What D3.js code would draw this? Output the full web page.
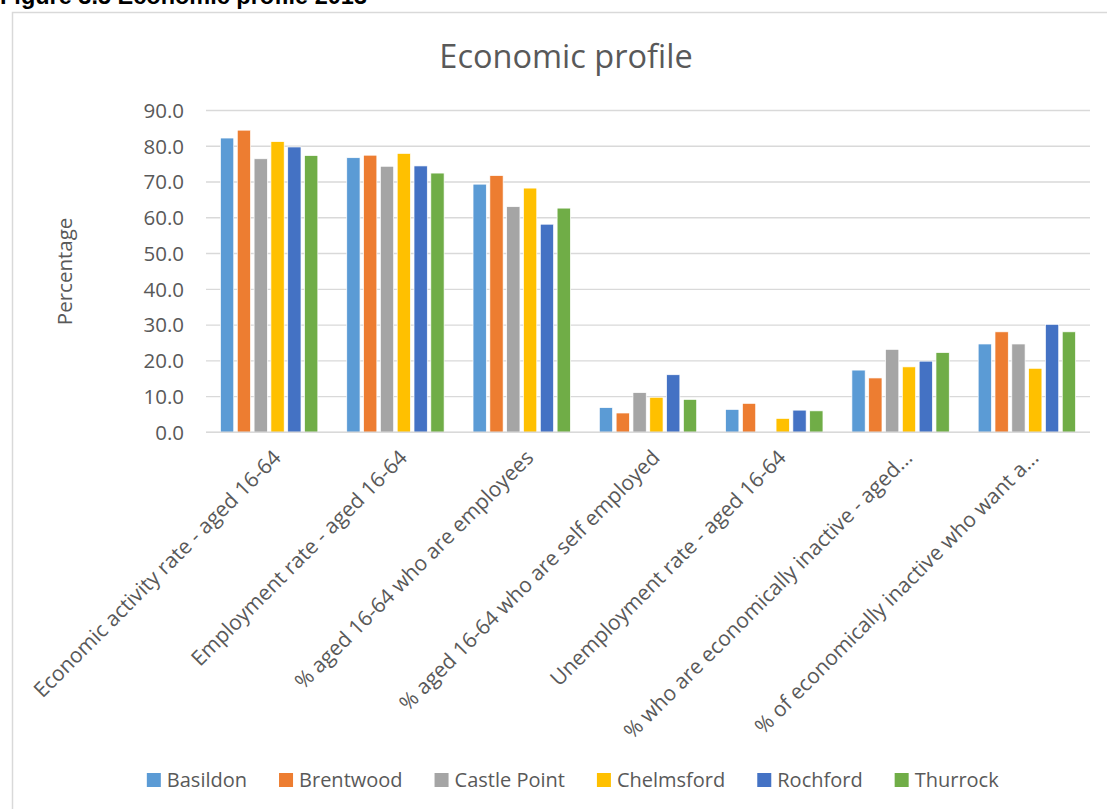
<!DOCTYPE html>
<html>
<head>
<meta charset="utf-8">
<script src="https://cdn.jsdelivr.net/npm/d3@7"></script>
<style>
  body { margin: 0; background: #fff; }
  svg { display: block; font-family: "Open Sans", sans-serif; }
</style>
</head>
<body>
<div id="chart"></div>
<script>
var categories = [
  "Economic activity rate - aged 16-64",
  "Employment rate - aged 16-64",
  "% aged 16-64 who are employees",
  "% aged 16-64 who are self employed",
  "Unemployment rate - aged 16-64",
  "% who are economically inactive - aged...",
  "% of economically inactive who want a..."
];
var seriesNames = ["Basildon", "Brentwood", "Castle Point", "Chelmsford", "Rochford", "Thurrock"];
var colors = ["#5B9BD5", "#ED7D31", "#A5A5A5", "#FFC000", "#4472C4", "#70AD47"];

var basildon    = [82.3, 76.8, 69.4, 6.9, 6.4, 17.4, 24.7];
var brentwood   = [84.5, 77.5, 71.8, 5.4, 8.1, 15.2, 28.1];
var castlePoint = [76.5, 74.4, 63.1, 11.1, null, 23.2, 24.7];
var chelmsford  = [81.3, 78.0, 68.3, 9.8, 3.9, 18.3, 17.9];
var rochford    = [79.8, 74.5, 58.2, 16.1, 6.2, 19.9, 30.2];
var thurrock    = [77.4, 72.5, 62.7, 9.2, 6.0, 22.3, 28.1];
var seriesValues = [basildon, brentwood, castlePoint, chelmsford, rochford, thurrock];

var yTicks = [0, 10, 20, 30, 40, 50, 60, 70, 80, 90];

var width = 1107, height = 809;
var plotLeft = 206, plotRight = 1090, plotTop = 110.5, plotBottom = 432.3;
var textColor = "#595959";

var svg = d3.select("#chart").append("svg")
  .attr("width", width)
  .attr("height", height);

// caption above the frame, cut off by the top edge
svg.append("text")
  .attr("x", 0)
  .attr("y", 4)
  .style("font-family", "'Liberation Sans', sans-serif")
  .style("font-weight", "bold")
  .style("font-size", "23.5px")
  .attr("fill", "#000")
  .text("Figure 3.5 Economic profile 2013");

// chart frame
svg.append("rect")
  .attr("x", 12.5).attr("y", 12.5)
  .attr("width", 1115).attr("height", 820)
  .attr("fill", "#fff")
  .attr("stroke", "#d9d9d9")
  .attr("stroke-width", 1.5);

var x0 = d3.scaleBand().domain(d3.range(categories.length)).range([plotLeft, plotRight]);
var x1 = d3.scaleBand().domain(d3.range(seriesNames.length))
  .range([0, x0.bandwidth()]).paddingInner(0.21).paddingOuter(0.86);
var y = d3.scaleLinear().domain([0, 90]).range([plotBottom, plotTop]);

// gridlines
svg.append("g").selectAll("line").data(yTicks).enter().append("line")
  .attr("x1", plotLeft).attr("x2", plotRight)
  .attr("y1", function(d){ return y(d); })
  .attr("y2", function(d){ return y(d); })
  .attr("stroke", "#d9d9d9")
  .attr("stroke-width", 1.3);

// y tick labels
svg.append("g").selectAll("text").data(yTicks).enter().append("text")
  .attr("x", 184)
  .attr("y", function(d){ return y(d); })
  .attr("dy", "0.36em")
  .attr("text-anchor", "end")
  .attr("fill", textColor)
  .style("font-size", "20.5px")
  .text(function(d){ return d3.format(".1f")(d); });

// bars
var groups = svg.append("g").selectAll("g").data(seriesValues).enter().append("g")
  .attr("fill", function(d, i){ return colors[i]; });

groups.each(function(vals, si){
  d3.select(this).selectAll("rect")
    .data(vals.map(function(v, ci){ return {v: v, ci: ci}; }).filter(function(d){ return d.v != null; }))
    .enter().append("rect")
      .attr("x", function(d){ return x0(d.ci) + x1(si); })
      .attr("y", function(d){ return y(d.v); })
      .attr("width", x1.bandwidth())
      .attr("height", function(d){ return y(0) - y(d.v); })
      .attr("stroke", "#fff")
      .attr("stroke-width", 0.7);
});

// axis line
svg.append("line")
  .attr("x1", plotLeft).attr("x2", plotRight)
  .attr("y1", y(0)).attr("y2", y(0))
  .attr("stroke", "#d9d9d9")
  .attr("stroke-width", 1.5);

// category labels
svg.append("g").selectAll("text").data(categories).enter().append("text")
  .attr("transform", function(d, i){
    return "translate(" + (x0(i) + x0.bandwidth() / 2 + 13) + "," + 459 + ") rotate(-45)";
  })
  .attr("text-anchor", "end")
  .attr("fill", textColor)
  .style("font-size", "21px")
  .text(function(d){ return d; });

// title
svg.append("text")
  .attr("x", 566)
  .attr("y", 68)
  .attr("text-anchor", "middle")
  .attr("fill", textColor)
  .style("font-size", "32.5px")
  .text("Economic profile");

// y axis title
svg.append("text")
  .attr("transform", "translate(" + 72 + "," + ((plotTop + plotBottom) / 2) + ") rotate(-90)")
  .attr("text-anchor", "middle")
  .attr("fill", textColor)
  .style("font-size", "20.5px")
  .text("Percentage");

// legend
var legend = svg.append("g");
var items = legend.selectAll("g").data(seriesNames).enter().append("g");
items.append("rect")
  .attr("width", 14).attr("height", 14)
  .attr("y", -7)
  .attr("fill", function(d, i){ return colors[i]; });
items.append("text")
  .attr("x", 20)
  .attr("dy", "0.36em")
  .attr("fill", textColor)
  .style("font-size", "20px")
  .text(function(d){ return d; });

var gap = 32;
var pos = 0;
var offsets = [];
items.each(function(){
  offsets.push(pos);
  pos += this.getBBox().width + gap;
});
var totalW = pos - gap;
var startX = 573 - totalW / 2;
items.attr("transform", function(d, i){ return "translate(" + (startX + offsets[i]) + ",780)"; });
</script>
</body>
</html>
